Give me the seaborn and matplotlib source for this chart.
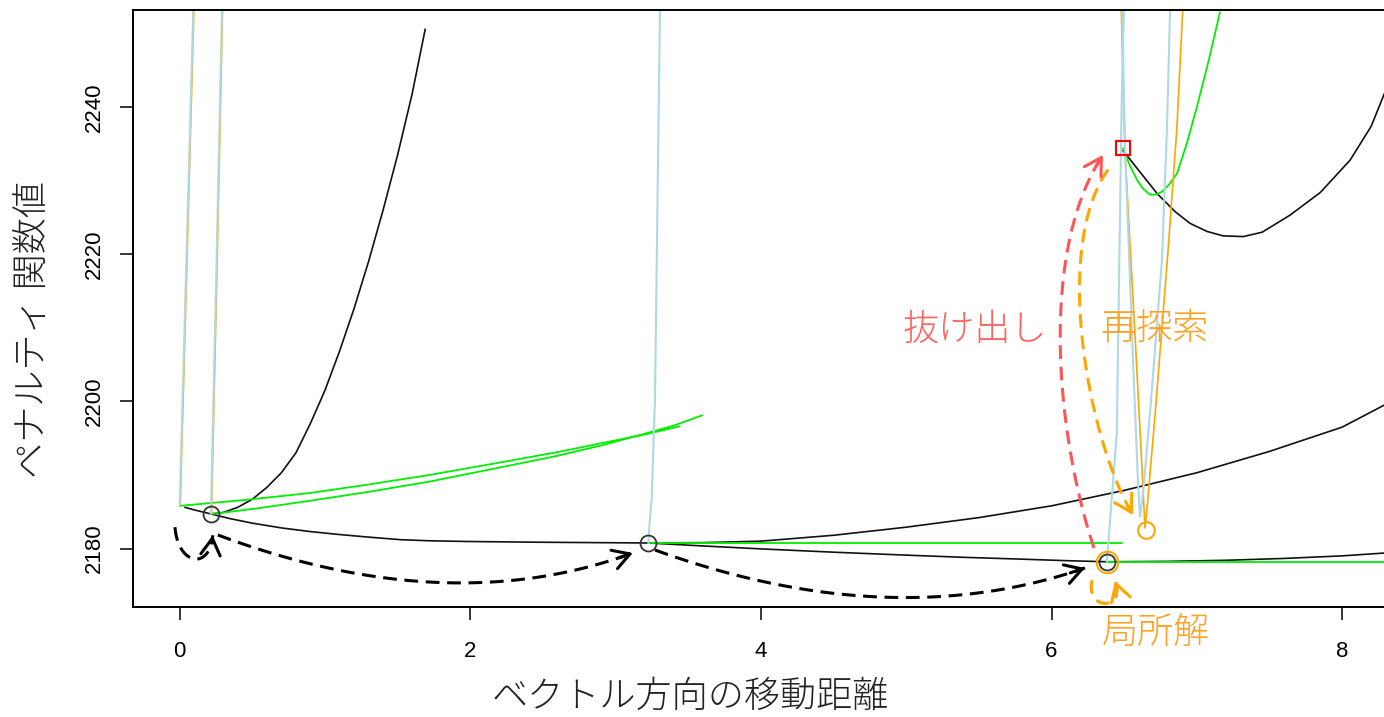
import numpy as np
import seaborn as sns
import matplotlib.pyplot as plt
from matplotlib import font_manager

# ---- search points ----
local_x = [0.215, 3.226, 6.381]
local_y = [2184.7, 2180.75, 2178.2]
jump_x, jump_y = [6.492], [2234.4]
research_x, research_y = [6.650], [2182.5]

# ---- line-search curves ----
black_curves = [
    ([0.036, 0.1, 0.215, 0.35, 0.5, 0.7, 0.9, 1.1, 1.3, 1.52, 1.72, 2.0, 2.5, 3.226],
     [2185.6, 2185.25, 2184.7, 2184.05, 2183.45, 2182.8, 2182.3, 2181.9, 2181.55,
      2181.2, 2181.05, 2180.95, 2180.85, 2180.75]),
    ([3.226, 3.6, 4.0, 4.5, 5.0, 5.4, 5.8, 6.1, 6.381],
     [2180.75, 2180.35, 2179.95, 2179.5, 2179.1, 2178.8, 2178.55, 2178.35, 2178.2]),
    ([3.226, 3.6, 4.0, 4.5, 5.0, 5.5, 6.0, 6.5, 7.0, 7.5, 8.0, 8.3],
     [2180.75, 2180.8, 2181.0, 2181.8, 2182.9, 2184.2, 2185.8, 2187.9, 2190.3,
      2193.2, 2196.5, 2199.6]),
    ([0.215, 0.3, 0.4, 0.5, 0.6, 0.7, 0.8, 0.9, 1.0, 1.1, 1.2, 1.3, 1.4, 1.5, 1.6, 1.69],
     [2184.7, 2184.9, 2185.6, 2186.7, 2188.3, 2190.3, 2193.0, 2197.0, 2201.5,
      2206.8, 2212.6, 2219.0, 2226.0, 2233.5, 2241.8, 2250.6]),
    ([6.492, 6.6, 6.729, 6.85, 6.953, 7.07, 7.18, 7.32, 7.45, 7.64, 7.85, 8.055, 8.2, 8.3],
     [2234.1, 2231.4, 2228.2, 2225.8, 2224.2, 2223.1, 2222.5, 2222.4, 2223.0,
      2225.3, 2228.4, 2232.8, 2237.4, 2242.3]),
    ([6.381, 6.8, 7.2, 7.6, 8.0, 8.3],
     [2178.2, 2178.25, 2178.4, 2178.65, 2179.0, 2179.4]),
]

green_curves = [
    ([0.0, 0.45, 0.9, 1.3, 1.72, 2.15, 2.6, 2.9, 3.2, 3.44],
     [2185.8, 2186.6, 2187.55, 2188.7, 2190.0, 2191.5, 2193.1, 2194.3, 2195.5, 2196.6]),
    ([0.23, 0.55, 0.9, 1.3, 1.72, 2.15, 2.6, 2.9, 3.2, 3.4, 3.596],
     [2184.7, 2185.5, 2186.5, 2187.7, 2189.1, 2190.8, 2192.6, 2194.0, 2195.6,
      2196.7, 2198.1]),
    ([3.226, 6.486], [2180.75, 2180.75]),
    ([6.381, 8.3], [2178.2, 2178.2]),
    ([6.492, 6.54, 6.589, 6.63, 6.678, 6.72, 6.76, 6.81, 6.864, 6.93, 7.0, 7.08, 7.159],
     [2234.4, 2232.0, 2230.1, 2228.9, 2228.1, 2228.1, 2228.5, 2229.5, 2231.0,
      2235.0, 2240.0, 2246.2, 2252.9]),
]

orange_curves = [
    ([0.004, 0.049, 0.099], [2185.9, 2218.0, 2254.0]),
    ([0.219, 0.257, 0.296], [2184.7, 2218.0, 2254.0]),
    ([6.479, 6.506, 6.58, 6.625, 6.643, 6.66, 6.72, 6.80, 6.862, 6.905],
     [2254.0, 2233.7, 2207.0, 2190.0, 2182.8, 2186.0, 2200.0, 2220.0, 2236.9, 2254.0]),
]

blue_curves = [
    ([0.0, 0.045, 0.095], [2185.9, 2218.0, 2254.0]),
    ([0.215, 0.253, 0.292], [2184.7, 2218.0, 2254.0]),
    ([3.226, 3.232, 3.248, 3.271, 3.306], [2180.75, 2183.0, 2186.6, 2200.2, 2254.0]),
    ([6.381, 6.449, 6.483, 6.499], [2178.2, 2195.7, 2240.9, 2254.0]),
    ([6.486, 6.506, 6.56, 6.595, 6.609, 6.63, 6.68, 6.76, 6.794, 6.817],
     [2254.0, 2234.4, 2206.0, 2189.0, 2184.3, 2187.5, 2199.0, 2219.2, 2236.9, 2254.0]),
]

# ---- curved dashed arrows (cubic bezier control points) ----
arrows = [
    ([(-0.032, 2182.9), (-0.012, 2177.7), (0.208, 2177.0), (0.228, 2181.8)], 'black'),
    ([(0.263, 2181.84), (1.349, 2173.8), (2.3, 2173.46), (3.119, 2179.4)], 'black'),
    ([(3.271, 2179.8), (4.35, 2172.09), (5.336, 2171.28), (6.231, 2177.35)], 'black'),
    ([(6.279, 2175.7), (6.231, 2171.5), (6.512, 2171.5), (6.437, 2175.6)], '#ffa500'),
    ([(6.292, 2180.07), (6.024, 2196.1), (5.921, 2220.6), (6.354, 2233.5)], '#ff5555'),
    ([(6.389, 2231.5), (5.997, 2220.6), (6.265, 2194.1), (6.561, 2184.55)], '#ffa500'),
]

xticks = [0, 2, 4, 6, 8]
yticks = [2180, 2200, 2220, 2240]

sns.set_theme(style='white')
cjk = ['Noto Sans CJK JP', 'DejaVu Sans']
plt.rcParams['font.family'] = cjk
names = {f.name for f in font_manager.fontManager.ttflist}
if 'Liberation Sans Narrow' in names:
    tick_font, tick_size = 'Liberation Sans Narrow', 19
else:
    tick_font, tick_size = 'Liberation Sans', 16

fig = plt.figure(figsize=(13.84, 7.17), dpi=100)
ax = fig.add_axes([133 / 1384, 110 / 717, 1251 / 1384, 597 / 717])


def bezier(pts, n=80):
    t = np.linspace(0, 1, n)[:, None]
    p = np.array(pts)
    return ((1 - t) ** 3 * p[0] + 3 * (1 - t) ** 2 * t * p[1]
            + 3 * (1 - t) * t ** 2 * p[2] + t ** 3 * p[3])


for xs, ys in black_curves:
    sns.lineplot(x=xs, y=ys, sort=False, estimator=None, color='#111111', lw=1.2, ax=ax)
for xs, ys in green_curves:
    sns.lineplot(x=xs, y=ys, sort=False, estimator=None, color='#00ee00', lw=1.3, ax=ax)
for xs, ys in orange_curves:
    sns.lineplot(x=xs, y=ys, sort=False, estimator=None, color='#ffa500', lw=1.2, ax=ax)
for xs, ys in blue_curves:
    sns.lineplot(x=xs, y=ys, sort=False, estimator=None, color='#add8e6', lw=1.5, ax=ax)

# points
ax.plot(local_x, local_y, 'o', ms=11.5, mfc='none', mec='#333333', mew=1.3)
ax.plot(local_x[-1:], local_y[-1:], 'o', ms=15.5, mfc='none', mec='#ffa500', mew=1.5)
ax.plot(research_x, research_y, 'o', ms=12, mfc='none', mec='#ffa500', mew=1.5)
ax.plot(jump_x, jump_y, 's', ms=10.5, mfc='none', mec='#ff0000', mew=1.5)

# arrows
for pts, col in arrows:
    curve = bezier(pts)
    ax.plot(curve[:, 0], curve[:, 1], color=col, lw=2.2, ls=(0, (4.5, 2.5)),
            clip_on=False)
    ax.annotate('', xy=tuple(curve[-1]), xytext=tuple(curve[-4]),
                arrowprops=dict(arrowstyle='->,head_length=0.6,head_width=0.35',
                                color=col, lw=2.2, shrinkA=0, shrinkB=0,
                                mutation_scale=20))

# labels inside the plot
ax.text(5.474, 2209.7, '抜け出し', color='#ff6060', fontsize=26,
        ha='center', va='center', fontweight='light')
ax.text(6.706, 2209.9, '再探索', color='#ffa020', fontsize=26,
        ha='center', va='center', fontweight='light')
ax.text(6.717, 2168.6, '局所解', color='#ffa020', fontsize=26,
        ha='center', va='center', fontweight='light', clip_on=False)

ax.set_xlim(-0.321, 8.288)
ax.set_ylim(2172.05, 2253.2)
ax.set_xticks(xticks)
ax.set_yticks(yticks)
ax.set_xticklabels([str(v) for v in xticks], fontfamily=tick_font, fontsize=tick_size,
                   color='black')
ax.set_yticklabels([str(v) for v in yticks], fontfamily=tick_font, fontsize=tick_size,
                   rotation=90, va='center', color='black')
ax.tick_params(axis='both', direction='out', length=9.5, width=1.1, color='black',
               bottom=True, left=True)
ax.tick_params(axis='x', pad=15)
ax.tick_params(axis='y', pad=11)

ax.set_xlabel('ベクトル方向の移動距離', fontsize=26, fontweight='light', va='center',
              color='#222222')
ax.set_ylabel('ペナルティ 関数値', fontsize=26, fontweight='light', va='center',
              color='#222222')
ax.xaxis.set_label_coords((690 - 133) / 1251, (607 - 697) / 597)
ax.yaxis.set_label_coords((33 - 133) / 1251, (607 - 330) / 597)

for side in ['left', 'bottom', 'top']:
    ax.spines[side].set_color('black')
    ax.spines[side].set_linewidth(1.4)
ax.spines['right'].set_visible(False)

fig.savefig('out.png', dpi=100)
